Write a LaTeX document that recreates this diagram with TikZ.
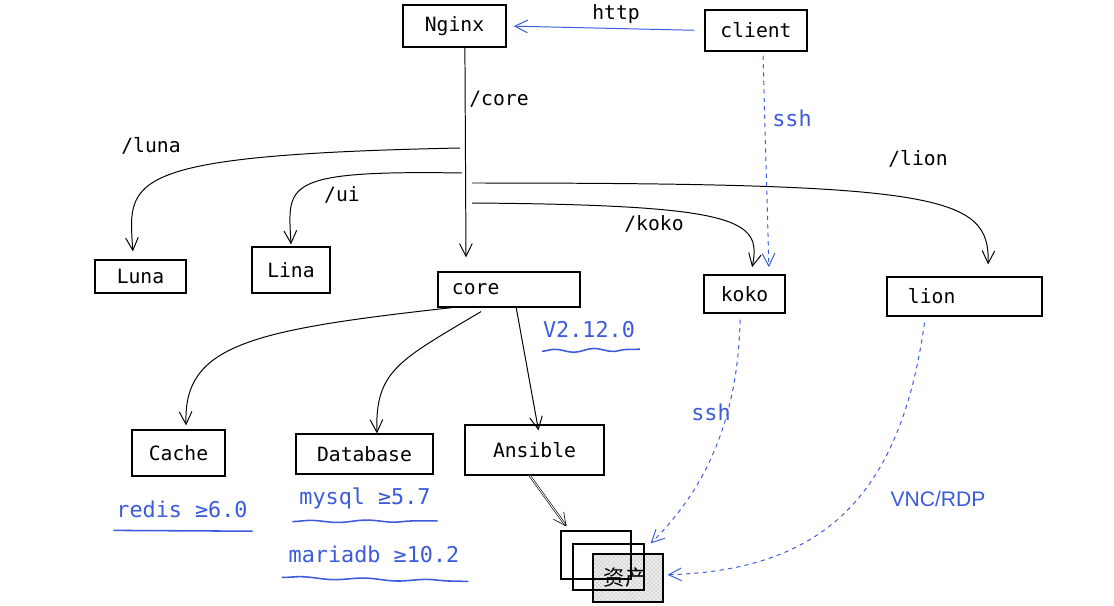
\documentclass[tikz,border=0pt]{standalone}
\usepackage{fontspec}
\setmonofont{DejaVu Sans Mono}
\setsansfont{Liberation Sans}
\newfontfamily\cjkfont{Noto Sans CJK SC}
\usetikzlibrary{arrows.meta,patterns,decorations.pathmorphing}
\definecolor{sketchblue}{RGB}{59,91,219}

\begin{document}
\begin{tikzpicture}[x=0.025cm,y=-0.025cm,
    box/.style={draw,line width=0.85pt,inner sep=0pt,font=\ttfamily\fontsize{14}{16}\selectfont},
    lbl/.style={font=\ttfamily\fontsize{14}{16}\selectfont},
    note/.style={text=sketchblue,font=\ttfamily\fontsize{15.5}{18}\selectfont},
    link/.style={line width=0.7pt,-{Straight Barb[length=9pt,width=9pt]}},
    sshlink/.style={link,sketchblue,dashed},
    wavy/.style={sketchblue,line width=1.1pt,decorate,decoration={snake,amplitude=1.2pt,segment length=28pt}}]

\useasboundingbox (0,0) rectangle (1114,606);

% Entry
\node[box,minimum width=2.575cm,minimum height=1.05cm] (nginx) at (454.5,26) {Nginx};
\node[box,minimum width=2.55cm,minimum height=1.025cm] (client) at (756,30.5) {client};

% Components
\node[box,minimum width=2.275cm,minimum height=0.825cm] (luna) at (140.5,276.5) {Luna};
\node[box,minimum width=1.95cm,minimum height=1.15cm] (lina) at (291,270) {Lina};
\node[box,minimum height=0.875cm,inner xsep=0.35cm,text width=2.85cm,align=left] (core) at (509,289.5) {core};
\node[box,minimum width=2.025cm,minimum height=0.95cm] (koko) at (744.5,294) {koko};
\node[box,minimum height=0.975cm,inner xsep=0.525cm,text width=2.825cm,align=left] (lion) at (964.5,296.5) {lion};

% Backends
\node[box,minimum width=2.325cm,minimum height=1.15cm] (cache) at (178.5,453) {Cache};
\node[box,minimum width=3.425cm,minimum height=1cm] (database) at (364.5,454) {Database};
\node[box,minimum width=3.475cm,minimum height=1.25cm] (ansible) at (534.5,450) {Ansible};

% Assets
\node[box,minimum width=1.75cm,minimum height=1.2cm,preaction={fill=gray!12},pattern=crosshatch,pattern color=gray!35] (asset) at (628,578) {};
\node[box,minimum width=1.75cm,minimum height=1.2cm] (asset1) at (596,555) {};
\node[box,minimum width=1.775cm,minimum height=1.15cm] (asset2) at (608.5,567) {};
\node[font=\cjkfont\fontsize{15}{18}\selectfont] (assettext) at (625,578) {资产};

% Route labels
\node[lbl] (httplbl) at (616,14) {http};
\node[lbl] (corelbl) at (499,99) {/core};
\node[lbl] (lunalbl) at (151,146) {/luna};
\node[lbl] (uilbl) at (342,195) {/ui};
\node[lbl] (lionlbl) at (918,159) {/lion};
\node[lbl] (kokolbl) at (654,224) {/koko};

% Notes
\node[note] (sshtop) at (792,118) {ssh};
\node[note] (version) at (589,330) {V2.12.0};
\node[note] (redis) at (182,509) {redis ≥6.0};
\node[note] (mysql) at (365,498) {mysql ≥5.7};
\node[note] (mariadb) at (374,554) {mariadb ≥10.2};
\node[note] (sshbottom) at (711,412) {ssh};
\node[note,font=\sffamily\fontsize{15}{18}\selectfont] (vnc) at (938,499) {VNC/RDP};

% Underlines
\draw[wavy] ([xshift=0.1cm,yshift=-0.2cm]version.south west) -- ([yshift=-0.15cm]version.south east);
\draw[sketchblue,line width=1.1pt] ([xshift=0.05cm,yshift=-0.2cm]redis.south west) -- ([yshift=-0.22cm]redis.south east);
\draw[wavy,decoration={amplitude=0.8pt,segment length=40pt}] ([xshift=-0.05cm,yshift=-0.2cm]mysql.south west) -- ([xshift=0.05cm,yshift=-0.18cm]mysql.south east);
\draw[wavy,decoration={amplitude=0.8pt,segment length=45pt}] ([xshift=-0.05cm,yshift=-0.25cm]mariadb.south west) -- ([xshift=0.1cm,yshift=-0.35cm]mariadb.south east);

% Trunk points
\coordinate (lunaout) at (460,148);
\coordinate (uiout) at (462,173);
\coordinate (lionout) at (472,183);
\coordinate (kokoout) at (472,203);

% Edges
\draw[sshlink,solid,shorten <=0.25cm,shorten >=0.18cm] (client.west) -- (nginx.east);
\draw[link] ([xshift=0.26cm]nginx.south) -- ([xshift=-1.075cm,yshift=0.35cm]core.north);
\draw[link] (lunaout) .. controls (120,155) and (128,180) .. ([xshift=-0.19cm,yshift=0.2cm]luna.north);
\draw[link] (uiout) .. controls (280,170) and (288,185) .. ([yshift=0.05cm]lina.north);
\draw[link] (lionout) .. controls (940,183) and (990,195) .. ([xshift=0.59cm,yshift=0.3cm]lion.north);
\draw[link] (kokoout) .. controls (740,205) and (762,220) .. ([xshift=0.19cm,yshift=0.18cm]koko.north);
\draw[sshlink] ([xshift=0.175cm,yshift=-0.1cm]client.south) -- ([xshift=0.61cm,yshift=0.18cm]koko.north);

\draw[link] ([xshift=-1.42cm]core.south) .. controls (250,330) and (183,345) .. ([xshift=0.19cm,yshift=0.1cm]cache.north);
\draw[link] ([xshift=-0.7cm,yshift=-0.1cm]core.south) .. controls (400,360) and (375,370) .. ([xshift=0.31cm]database.north);
\draw[link] ([xshift=0.18cm]core.south) -- ([xshift=0.1cm,yshift=-0.15cm]ansible.north);
\draw[link,double distance=0.6pt,line width=0.45pt] ([xshift=-0.12cm]ansible.south) -- ([xshift=0.15cm,yshift=0.1cm]asset1.north west);
\draw[sshlink] ([xshift=-0.11cm,yshift=-0.15cm]koko.south) .. controls (738,420) and (705,490) .. ([xshift=0.15cm]asset2.north east);
\draw[sshlink] ([xshift=-1.0cm,yshift=-0.15cm]lion.south) .. controls (900,500) and (820,570) .. ([xshift=0.1cm,yshift=0.08cm]asset.east);
\end{tikzpicture}
\end{document}
